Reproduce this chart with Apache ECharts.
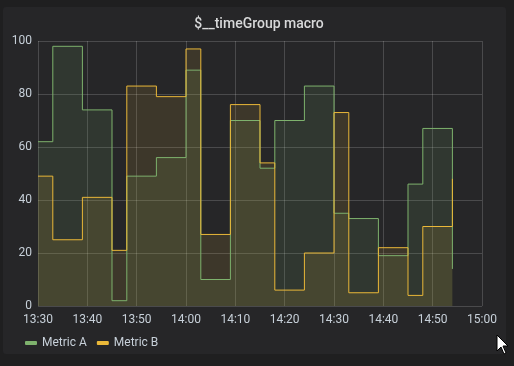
<!DOCTYPE html>
<html>
<head>
<meta charset="utf-8">
<script src="https://cdn.jsdelivr.net/npm/echarts@6/dist/echarts.min.js"></script>
<style>
  html, body { margin: 0; padding: 0; background: #1f1f20; }
  #panel { position: absolute; left: 3px; top: 7px; width: 503px; height: 347px; background: #262628; border-radius: 3px; }
  #chart { position: absolute; left: 0; top: 0; width: 514px; height: 366px; }
</style>
</head>
<body>
<div id="panel"></div>
<div id="chart"></div>
<script>
// minutes after 13:30 at which each step starts
const stepMinutes = [0, 3, 9, 15, 18, 24, 30, 33, 39, 45, 48, 54, 60, 63, 69, 75, 78, 84];
const metricA = [62, 98, 74, 2, 49, 56, 89, 10, 70, 52, 70, 83, 35, 33, 19, 46, 67, 14];
const metricB = [49, 25, 41, 21, 83, 79, 97, 27, 76, 54, 6, 20, 73, 5, 22, 4, 30, 48];
const xTickLabels = ['13:30', '13:40', '13:50', '14:00', '14:10', '14:20', '14:30', '14:40', '14:50', '15:00'];
const yTicks = [0, 20, 40, 60, 80, 100];

const green = '#7EB26D';
const yellow = '#EAB839';
const textColor = '#c7d0d9';

function pairs(vals) { return stepMinutes.map((m, i) => [m, vals[i]]); }

const chart = echarts.init(document.getElementById('chart'), null, { renderer: 'canvas' });
chart.setOption({
  backgroundColor: 'transparent',
  animation: false,
  title: {
    text: '$__timeGroup macro',
    left: 254, textAlign: 'center', top: 12,
    textStyle: { color: '#d8d9da', fontSize: 14, fontWeight: 500, fontFamily: 'Roboto' }
  },
  grid: { left: 38, right: 32, top: 41, bottom: 60 },
  xAxis: {
    type: 'value', min: 0, max: 90, interval: 10,
    axisLine: { show: false }, axisTick: { show: false },
    axisLabel: {
      color: textColor, fontSize: 12, fontFamily: 'Roboto', margin: 8,
      formatter: v => xTickLabels[Math.round(v / 10)]
    },
    splitLine: { show: true, lineStyle: { color: 'rgba(255,255,255,0.17)', width: 1 } }
  },
  yAxis: {
    type: 'value', min: yTicks[0], max: yTicks[yTicks.length - 1], interval: 20,
    axisLine: { show: false }, axisTick: { show: false },
    axisLabel: { color: textColor, fontSize: 12, fontFamily: 'Roboto', margin: 6 },
    splitLine: { show: true, lineStyle: { color: 'rgba(255,255,255,0.17)', width: 1 } }
  },
  legend: {
    left: 20, top: 332,
    itemWidth: 12, itemHeight: 4, itemGap: 10,
    icon: 'roundRect',
    textStyle: { color: textColor, fontSize: 12, fontFamily: 'Roboto', padding: [0, 0, 0, 0] },
    data: ['Metric A', 'Metric B']
  },
  series: [
    {
      name: 'Metric A', type: 'line', step: 'end', showSymbol: false, symbol: 'none',
      data: pairs(metricA),
      lineStyle: { color: green, width: 1 },
      itemStyle: { color: green },
      areaStyle: { color: green, opacity: 0.12 }
    },
    {
      name: 'Metric B', type: 'line', step: 'end', showSymbol: false, symbol: 'none',
      data: pairs(metricB),
      lineStyle: { color: yellow, width: 1 },
      itemStyle: { color: yellow },
      areaStyle: { color: yellow, opacity: 0.12 }
    }
  ],
  graphic: [
    {
      type: 'polygon', z: 100,
      shape: { points: [[497, 335], [497, 351], [501, 347], [504, 354], [506, 353], [503, 346], [508, 346]] },
      style: { fill: '#ffffff', stroke: '#000000', lineWidth: 1 }
    }
  ]
});
</script>
</body>
</html>
